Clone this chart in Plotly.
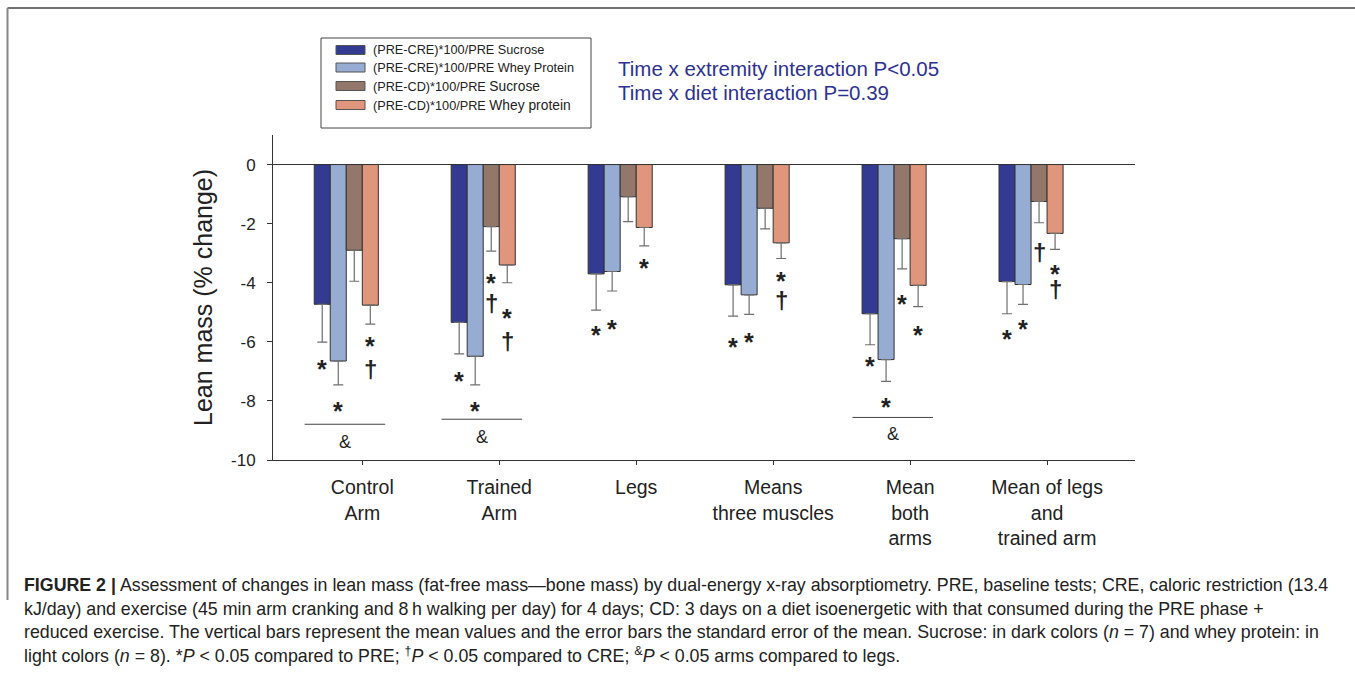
import plotly.graph_objects as go

# ---------------- data ----------------
categories = ["Control<br>Arm", "Trained<br>Arm", "Legs", "Means<br>three muscles",
              "Mean<br>both<br>arms", "Mean of legs<br>and<br>trained arm"]

series_names = ["(PRE-CRE)*100/PRE Sucrose", "(PRE-CRE)*100/PRE Whey Protein",
                "(PRE-CD)*100/PRE Sucrose", "(PRE-CD)*100/PRE Whey protein"]

cre_sucrose = [-4.73, -5.34, -3.70, -4.07, -5.05, -3.96]
cre_sucrose_se = [1.28, 1.07, 1.23, 1.06, 1.05, 1.09]
cre_whey = [-6.65, -6.49, -3.62, -4.41, -6.60, -4.06]
cre_whey_se = [0.81, 0.97, 0.66, 0.66, 0.74, 0.67]
cd_sucrose = [-2.90, -2.10, -1.09, -1.48, -2.51, -1.25]
cd_sucrose_se = [1.05, 0.83, 0.84, 0.70, 1.02, 0.72]
cd_whey = [-4.76, -3.40, -2.13, -2.65, -4.09, -2.33]
cd_whey_se = [0.64, 0.60, 0.62, 0.53, 0.72, 0.54]

values = [cre_sucrose, cre_whey, cd_sucrose, cd_whey]
errors = [cre_sucrose_se, cre_whey_se, cd_sucrose_se, cd_whey_se]

y_ticks = [0, -2, -4, -6, -8, -10]

# significance marks: (category index, series index, symbol, y position)
sig_marks = [
    (0, 0, "*", -6.71), (0, 1, "*", -8.14), (0, 3, "*", -5.94), (0, 3, "†", -6.90),
    (1, 0, "*", -7.13), (1, 1, "*", -8.14), (1, 2, "*", -3.80), (1, 2, "†", -4.68),
    (1, 3, "*", -5.00), (1, 3, "†", -5.94),
    (2, 0, "*", -5.55), (2, 1, "*", -5.36), (2, 3, "*", -3.29),
    (3, 0, "*", -5.98), (3, 1, "*", -5.79), (3, 3, "*", -3.74), (3, 3, "†", -4.57),
    (4, 0, "*", -6.62), (4, 1, "*", -8.00), (4, 2, "*", -4.50), (4, 3, "*", -5.55),
    (5, 0, "*", -5.69), (5, 1, "*", -5.36), (5, 2, "†", -2.95), (5, 3, "*", -3.49),
    (5, 3, "†", -4.19),
]
# arms vs legs brackets: (category index, line y, label y)
arms_vs_legs = [(0, -8.79, -9.38), (1, -8.62, -9.23), (4, -8.56, -9.12)]

stats_text = ["Time x extremity interaction P&lt;0.05", "Time x diet interaction P=0.39"]

caption_lines = [
    "<b>FIGURE 2 |</b> Assessment of changes in lean mass (fat-free mass\u2014bone mass) by dual-energy x-ray absorptiometry. PRE, baseline tests; CRE, caloric restriction (13.4",
    "kJ/day) and exercise (45 min arm cranking and 8\u2009h walking per day) for 4 days; CD: 3 days on a diet isoenergetic with that consumed during the PRE phase +",
    "reduced exercise. The vertical bars represent the mean values and the error bars the standard error of the mean. Sucrose: in dark colors (<i>n</i> = 7) and whey protein: in",
    "light colors (<i>n</i> = 8). *<i>P</i> &lt; 0.05 compared to PRE; <sup>\u2020</sup><i>P</i> &lt; 0.05 compared to CRE; <sup>&amp;</sup><i>P</i> &lt; 0.05 arms compared to legs.",
]

# ---------------- style ----------------
colors = ["#323a92", "#96acd2", "#92776a", "#df967c"]
FONT = "Liberation Sans, Arial, Helvetica, sans-serif"
W, H = 1355, 683
ML, MR, MT, MB = 273, 220, 135, 223
bw = 0.117                       # bar slot width (x units)
offsets = [-3 * bw, -2 * bw, -bw, 0.0]

def px2x(px):
    return (px - ML) / (W - ML - MR)

def py2y(py):
    return (H - MB - py) / (H - MT - MB)

fig = go.Figure()
x_idx = list(range(len(categories)))
for k in range(4):
    fig.add_trace(go.Bar(
        x=x_idx, y=values[k], name=series_names[k],
        width=bw, offset=offsets[k],
        marker=dict(color=colors[k], line=dict(color="#333333", width=1)),
        error_y=dict(type="data", symmetric=False,
                     array=[0] * len(values[k]), arrayminus=errors[k],
                     color="#6f6f6f", thickness=1.2, width=5),
        showlegend=False,
    ))

annotations = []
shapes = []

for (c, s, sym, yv) in sig_marks:
    xc = c + offsets[s] + bw / 2
    if sym == "*":
        annotations.append(dict(x=xc, y=yv, xref="x", yref="y", text="<b>*</b>", showarrow=False,
                                font=dict(family=FONT, size=25, color="#222222"),
                                xanchor="center", yanchor="middle", yshift=-6))
    else:
        annotations.append(dict(x=xc, y=yv, xref="x", yref="y", text="<b>†</b>", showarrow=False,
                                font=dict(family=FONT, size=24, color="#222222"),
                                xanchor="center", yanchor="middle", yshift=-1))

for (c, ly, ty) in arms_vs_legs:
    x0 = c + offsets[0] - 0.07
    x1 = c + offsets[3] + bw + 0.05
    shapes.append(dict(type="line", xref="x", yref="y", x0=x0, x1=x1, y0=ly, y1=ly,
                       line=dict(color="#444444", width=1)))
    annotations.append(dict(x=(x0 + x1) / 2, y=ty, xref="x", yref="y", text="&amp;",
                            showarrow=False, font=dict(family=FONT, size=18, color="#222222"),
                            xanchor="center", yanchor="middle"))

# y-axis title
annotations.append(dict(x=px2x(203), y=py2y(298), xref="paper", yref="paper",
                        text="Lean mass (% change)", textangle=-90, showarrow=False,
                        font=dict(family=FONT, size=25, color="#222222"),
                        xanchor="center", yanchor="middle"))

# statistics text
for i, t in enumerate(stats_text):
    annotations.append(dict(x=px2x(616), y=py2y(69 + 23 * i), xref="paper", yref="paper",
                            text=t, showarrow=False,
                            font=dict(family=FONT, size=20.5, color="#2d3192"),
                            xanchor="left", yanchor="middle"))

# legend box (manual)
shapes.append(dict(type="rect", xref="paper", yref="paper",
                   x0=px2x(321), x1=px2x(591), y0=py2y(38), y1=py2y(128),
                   line=dict(color="#444444", width=1), fillcolor="white"))
row_y = [50, 67.5, 86, 105]
legend_texts = [
    "(PRE-CRE)*100/PRE Sucrose",
    "(PRE-CRE)*100/PRE Whey Protein",
    "(PRE-CD)*100/PRE <span style='font-size:13.8px'>Sucrose</span>",
    "(PRE-CD)*100/PRE <span style='font-size:13.8px'>Whey protein</span>",
]
for k in range(4):
    shapes.append(dict(type="rect", xref="paper", yref="paper",
                       x0=px2x(336), x1=px2x(365), y0=py2y(row_y[k] - 4.5), y1=py2y(row_y[k] + 4.5),
                       line=dict(color="#555555", width=1), fillcolor=colors[k]))
    annotations.append(dict(x=px2x(371), y=py2y(row_y[k]), xref="paper", yref="paper",
                            text=legend_texts[k], showarrow=False,
                            font=dict(family=FONT, size=12.7, color="#222222"),
                            xanchor="left", yanchor="middle"))

# frame lines
shapes.append(dict(type="line", xref="paper", yref="paper", x0=px2x(7.5), x1=px2x(1355),
                   y0=py2y(8), y1=py2y(8), line=dict(color="#444444", width=1.5)))
shapes.append(dict(type="line", xref="paper", yref="paper", x0=px2x(7.5), x1=px2x(7.5),
                   y0=py2y(8), y1=py2y(600), line=dict(color="#888888", width=2)))

# caption
cap_y = [585, 608.5, 632, 655]
for i, t in enumerate(caption_lines):
    annotations.append(dict(x=px2x(22), y=py2y(cap_y[i]), xref="paper", yref="paper",
                            text=t, showarrow=False,
                            font=dict(family=FONT, size=17.8, color="#222222"),
                            xanchor="left", yanchor="middle"))

axis_common = dict(showline=True, linecolor="#333333", linewidth=1, ticks="outside",
                   tickcolor="#333333", ticklen=5, showgrid=False)

fig.update_layout(
    width=W, height=H,
    margin=dict(l=ML, r=MR, t=MT, b=MB, pad=0),
    paper_bgcolor="white", plot_bgcolor="white",
    barmode="overlay",
    font=dict(family=FONT, color="#222222"),
    xaxis=dict(range=[-0.652, 5.642], tickvals=x_idx, ticktext=categories,
               tickfont=dict(family=FONT, size=19.5, color="#222222"),
               zeroline=False, ticklen=4, ticklabelstandoff=6,
               **{k: v for k, v in axis_common.items() if k != "ticklen"}),
    yaxis=dict(range=[-10, 1], tickvals=y_ticks, ticktext=[str(v) for v in y_ticks],
               tickfont=dict(family=FONT, size=17, color="#222222"),
               zeroline=True, zerolinecolor="#333333", zerolinewidth=1,
               ticklabelstandoff=8, **axis_common),
    yaxis2=dict(range=[-10, 1], overlaying="y", side="right", tickvals=y_ticks,
                ticktext=[str(v) for v in y_ticks],
                tickfont=dict(family=FONT, size=17, color="#222222"),
                zeroline=False, ticklabelstandoff=6, **axis_common),
    annotations=annotations,
    shapes=shapes,
)

fig.write_html("out.html", config={"displayModeBar": False},
               post_script="document.body.style.margin='0';document.body.style.overflow='hidden';")
